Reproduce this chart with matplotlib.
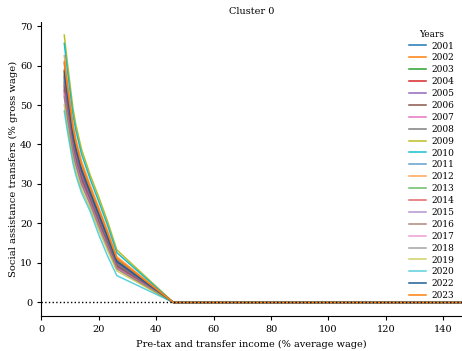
import matplotlib
matplotlib.use("Agg")
import matplotlib.pyplot as plt

plt.rcParams["font.family"] = ["DejaVu Serif"]

# Income grid (% of average wage)
income = [8, 9, 10, 11, 12, 14, 17, 20, 23, 26.3, 46, 150]

years = ["2001", "2002", "2003", "2004", "2005", "2006", "2007", "2008",
         "2009", "2010", "2011", "2012", "2013", "2014", "2015", "2016",
         "2017", "2018", "2019", "2020", "2022", "2023"]

# Social assistance transfers (% gross wage) per year
sa_2001 = [57.0, 51.5, 46.5, 41.5, 38.0, 32.7, 27.2, 21.6, 16.1, 10.0, 0, 0]
sa_2002 = [59.0, 53.3, 48.1, 43.0, 39.3, 33.8, 28.2, 22.5, 16.9, 10.6, 0, 0]
sa_2003 = [56.0, 50.6, 45.7, 40.8, 37.3, 32.1, 26.7, 21.1, 15.7, 9.7, 0, 0]
sa_2004 = [55.0, 49.7, 44.9, 40.0, 36.7, 31.6, 26.2, 20.7, 15.3, 9.4, 0, 0]
sa_2005 = [54.0, 48.8, 44.0, 39.3, 36.0, 31.0, 25.8, 20.2, 14.8, 9.1, 0, 0]
sa_2006 = [53.5, 48.4, 43.7, 39.0, 35.7, 30.7, 25.5, 20.0, 14.7, 9.0, 0, 0]
sa_2007 = [52.5, 47.4, 42.8, 38.2, 35.0, 30.1, 25.1, 19.5, 14.2, 8.6, 0, 0]
sa_2008 = [55.5, 50.2, 45.3, 40.4, 37.0, 31.8, 26.5, 20.9, 15.4, 9.5, 0, 0]
sa_2009 = [67.7, 61.2, 55.2, 49.3, 45.1, 38.8, 32.3, 26.7, 20.7, 13.3, 0, 0]
sa_2010 = [65.6, 59.3, 53.5, 47.8, 43.7, 37.6, 31.3, 25.6, 19.7, 12.6, 0, 0]
sa_2011 = [60.5, 54.6, 49.3, 44.0, 40.3, 34.7, 28.9, 23.2, 17.5, 11.0, 0, 0]
sa_2012 = [62.5, 56.4, 51.0, 45.5, 41.6, 35.8, 29.8, 24.1, 18.3, 11.6, 0, 0]
sa_2013 = [58.0, 52.4, 47.3, 42.2, 38.7, 33.3, 27.7, 22.1, 16.5, 10.3, 0, 0]
sa_2014 = [57.5, 52.0, 46.9, 41.9, 38.3, 33.0, 27.4, 21.9, 16.4, 10.2, 0, 0]
sa_2015 = [56.5, 51.0, 46.1, 41.1, 37.7, 32.4, 27.0, 21.4, 15.9, 9.9, 0, 0]
sa_2016 = [54.5, 49.2, 44.5, 39.7, 36.3, 31.3, 26.0, 20.5, 15.1, 9.3, 0, 0]
sa_2017 = [53.0, 47.9, 43.2, 38.6, 35.3, 30.4, 25.3, 19.7, 14.4, 8.8, 0, 0]
sa_2018 = [52.0, 47.0, 42.4, 37.8, 34.7, 29.8, 24.8, 19.2, 14.0, 8.5, 0, 0]
sa_2019 = [50.0, 45.2, 40.8, 36.4, 33.3, 28.7, 23.9, 18.4, 13.3, 8.0, 0, 0]
sa_2020 = [48.5, 43.8, 39.6, 35.3, 32.3, 27.8, 23.1, 17.2, 11.9, 6.8, 0, 0]
sa_2022 = [58.5, 52.8, 47.7, 42.6, 39.0, 33.6, 27.9, 22.3, 16.7, 10.4, 0, 0]
sa_2023 = [61.0, 55.1, 49.8, 44.4, 40.7, 35.0, 29.1, 23.5, 17.8, 11.2, 0, 0]

series = [sa_2001, sa_2002, sa_2003, sa_2004, sa_2005, sa_2006, sa_2007,
          sa_2008, sa_2009, sa_2010, sa_2011, sa_2012, sa_2013, sa_2014,
          sa_2015, sa_2016, sa_2017, sa_2018, sa_2019, sa_2020, sa_2022,
          sa_2023]

tab10 = plt.get_cmap("tab10").colors

fig = plt.figure(figsize=(4.62, 3.51), dpi=100)
ax = fig.add_axes([0.0894, 0.100, 0.9106, 0.836])

for i, (yr, vals) in enumerate(zip(years, series)):
    color = tab10[i % 10]
    alpha = 0.7 if 10 <= i < 20 else 1.0
    if yr == "2022":
        color = "#1d5f94"
    ax.plot(income, vals, color=color, alpha=alpha, lw=1.1, label=yr)

ax.axhline(0, color="black", ls=":", lw=1.0, zorder=5)

ax.set_xlim(0, 146.5)
ax.set_ylim(-3.4, 70.9)
ax.set_xticks(range(0, 141, 20))
ax.set_yticks(range(0, 71, 10))
ax.tick_params(labelsize=7, length=3, width=0.8)
ax.spines["top"].set_visible(False)
ax.spines["right"].set_visible(False)

ax.set_title("Cluster 0", fontsize=7, pad=6)
ax.set_xlabel("Pre-tax and transfer income (% average wage)", fontsize=7)
ax.set_ylabel("Social assistance transfers (% gross wage)", fontsize=7.2,
              labelpad=1.5)

leg = ax.legend(title="Years", loc="upper right", frameon=False,
                fontsize=6.5, title_fontsize=6.5, handlelength=1.9,
                handletextpad=0.6, labelspacing=0.32, borderaxespad=0.4)

fig.savefig("out.png", dpi=100)
